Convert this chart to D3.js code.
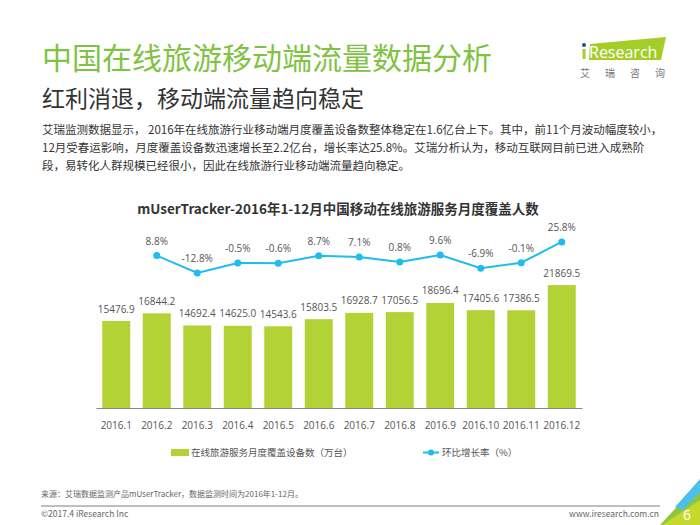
<!DOCTYPE html>
<html>
<head>
<meta charset="utf-8">
<script src="https://cdn.jsdelivr.net/npm/d3@7"></script>
<style>
	body { margin: 0; background: #fff; }
	svg { display: block; }
	.cjk { font-family: "Noto Sans CJK SC", "Noto Sans", sans-serif; }
	.num { font-family: "Open Sans", "Noto Sans", sans-serif; }
</style>
</head>
<body>
<div id="main"></div>
<script>
// chart data
const months = ["2016.1", "2016.2", "2016.3", "2016.4", "2016.5", "2016.6",
	"2016.7", "2016.8", "2016.9", "2016.10", "2016.11", "2016.12"];
const devices = [15476.9, 16844.2, 14692.4, 14625.0, 14543.6, 15803.5,
	16928.7, 17056.5, 18696.4, 17405.6, 17386.5, 21869.5];
// month-on-month growth starts in Feb
const growthMonths = months.slice(1);
const growth = [8.8, -12.8, -0.5, -0.6, 8.7, 7.1, 0.8, 9.6, -6.9, -0.1, 25.8];

const bodyLines = [
	"艾瑞监测数据显示， 2016年在线旅游行业移动端月度覆盖设备数整体稳定在1.6亿台上下。其中，前11个月波动幅度较小，",
	"12月受春运影响，月度覆盖设备数迅速增长至2.2亿台，增长率达25.8%。艾瑞分析认为，移动互联网目前已进入成熟阶",
	"段，易转化人群规模已经很小，因此在线旅游行业移动端流量趋向稳定。"
];

const barColor = "#b2d235";
const lineColor = "#1fbcee";

let svg = d3.select("#main").append("svg")
	.attr("width", 700).attr("height", 525);

draw_header();
draw_chart();
draw_footer();

function draw_header() {
	svg.append("text").attr("class", "cjk")
		.attr("x", 42).attr("y", 69)
		.style("font-size", "30px").style("fill", "#80c342")
		.text("中国在线旅游移动端流量数据分析");
	svg.append("text").attr("class", "cjk")
		.attr("x", 42).attr("y", 107)
		.style("font-size", "23px").style("fill", "#333")
		.text("红利消退，移动端流量趋向稳定");

	svg.selectAll(".body_line")
		.data(bodyLines).enter()
		.append("text").attr("class", "cjk body_line")
		.attr("x", 42)
		.attr("y", function (d, i) { return 134 + i * 18; })
		.style("font-size", "11.5px").style("fill", "#333")
		.text(function (d) { return d; });

	// iResearch logo
	let logo = svg.append("g");
	logo.append("polygon")
		.attr("points", "590,44 666,37 661,60 589,60")
		.style("fill", "#a5cd28");
	logo.append("rect").attr("x", 582.5).attr("y", 49).attr("width", 3).attr("height", 10)
		.style("fill", "#a5cd28");
	logo.append("circle").attr("cx", 584).attr("cy", 45).attr("r", 2)
		.style("fill", "#1f4f9a");
	logo.append("text").attr("class", "num")
		.attr("x", 589).attr("y", 58)
		.style("font-size", "16px").style("fill", "#fff")
		.text("Research");
	logo.selectAll(".logo_cn")
		.data(["艾", "瑞", "咨", "询"]).enter()
		.append("text").attr("class", "cjk logo_cn")
		.attr("x", function (d, i) { return 585 + i * 25; })
		.attr("y", 77)
		.attr("text-anchor", "middle")
		.style("font-size", "10px").style("fill", "#777")
		.text(function (d) { return d; });
}

function draw_chart() {
	svg.append("text").attr("class", "cjk")
		.attr("x", 338).attr("y", 214)
		.attr("text-anchor", "middle")
		.style("font-size", "13.5px").style("font-weight", "bold").style("fill", "#333")
		.text("mUserTracker-2016年1-12月中国移动在线旅游服务月度覆盖人数");

	let x = d3.scaleBand().domain(months).range([96, 582])
		.paddingInner(0.31).paddingOuter(0.155);
	let y = d3.scaleLinear().domain([0, 25000]).range([408, 267.5]);
	let y2 = d3.scaleLinear().domain([-15, 30]).range([274.7, 238.6]);

	let bars = svg.append("g").selectAll("rect")
		.data(devices).enter();
	bars.append("rect")
		.attr("x", function (d, i) { return x(months[i]); })
		.attr("y", function (d) { return y(d); })
		.attr("width", x.bandwidth())
		.attr("height", function (d) { return y(0) - y(d); })
		.style("fill", barColor);
	bars.append("text").attr("class", "num")
		.attr("x", function (d, i) { return x(months[i]) + x.bandwidth() / 2; })
		.attr("y", function (d) { return y(d) - 8.5; })
		.attr("text-anchor", "middle")
		.style("font-size", "10px").style("fill", "#555")
		.text(function (d) { return d3.format(".1f")(d); });

	// x axis
	let axis = svg.append("g")
		.attr("transform", "translate(0,408)")
		.call(d3.axisBottom(x).tickSize(0).tickPadding(0).tickSizeOuter(0));
	axis.select(".domain").attr("stroke", "#888").attr("stroke-width", 1.2);
	axis.selectAll("text").attr("class", "num")
		.attr("dy", "20.5px")
		.style("font-size", "10px").style("fill", "#555");

	// growth line
	let cx = function (d, i) { return x(growthMonths[i]) + x.bandwidth() / 2; };
	let line = d3.line()
		.x(function (d, i) { return cx(d, i); })
		.y(function (d) { return y2(d); });
	svg.append("path").datum(growth)
		.attr("d", line)
		.style("fill", "none").style("stroke", lineColor).style("stroke-width", 2);
	let pts = svg.append("g").selectAll("circle").data(growth).enter();
	pts.append("circle")
		.attr("cx", cx)
		.attr("cy", function (d) { return y2(d); })
		.attr("r", 3.5)
		.style("fill", lineColor);
	pts.append("text").attr("class", "num")
		.attr("x", cx)
		.attr("y", function (d) { return y2(d) - 11; })
		.attr("text-anchor", "middle")
		.style("font-size", "10px").style("fill", "#555")
		.text(function (d) { return d.toFixed(1) + "%"; });

	// legend
	let legend = svg.append("g");
	legend.append("rect").attr("x", 171).attr("y", 449).attr("width", 18).attr("height", 7)
		.style("fill", barColor);
	legend.append("text").attr("class", "cjk")
		.attr("x", 191).attr("y", 456)
		.style("font-size", "9.5px").style("fill", "#555")
		.text("在线旅游服务月度覆盖设备数（万台）");
	legend.append("line").attr("x1", 423).attr("x2", 439).attr("y1", 452.5).attr("y2", 452.5)
		.style("stroke", lineColor).style("stroke-width", 2);
	legend.append("circle").attr("cx", 431).attr("cy", 452.5).attr("r", 3)
		.style("fill", lineColor);
	legend.append("text").attr("class", "cjk")
		.attr("x", 442).attr("y", 456)
		.style("font-size", "9.5px").style("fill", "#555")
		.text("环比增长率（%）");
}

function draw_footer() {
	svg.append("text").attr("class", "cjk")
		.attr("x", 41).attr("y", 497)
		.style("font-size", "8px").style("fill", "#666")
		.text("来源：艾瑞数据监测产品mUserTracker，数据监测时间为2016年1-12月。");
	svg.append("line").attr("x1", 41).attr("x2", 660).attr("y1", 506).attr("y2", 506)
		.style("stroke", "#aaa").style("stroke-width", 1.5);
	svg.append("text").attr("class", "cjk")
		.attr("x", 41).attr("y", 517)
		.style("font-size", "8.5px").style("fill", "#666")
		.text("©2017.4 iResearch Inc");
	svg.append("text").attr("class", "cjk")
		.attr("x", 659).attr("y", 517)
		.attr("text-anchor", "end")
		.style("font-size", "8.5px").style("fill", "#666")
		.text("www.iresearch.com.cn");

	// page corner
	svg.append("polygon").attr("points", "660,525 700,482 700,525").style("fill", "#8cc63f");
	svg.append("polygon").attr("points", "675,507 700,479 700,492 683,510").style("fill", "#4dbfea");
	svg.append("polygon").attr("points", "662,525 700,500 700,525").style("fill", "#c4d82e");
	svg.append("text").attr("class", "num")
		.attr("x", 687).attr("y", 520)
		.attr("text-anchor", "middle")
		.style("font-size", "14px").style("fill", "#fff")
		.text("6");
}
</script>
</body>
</html>
